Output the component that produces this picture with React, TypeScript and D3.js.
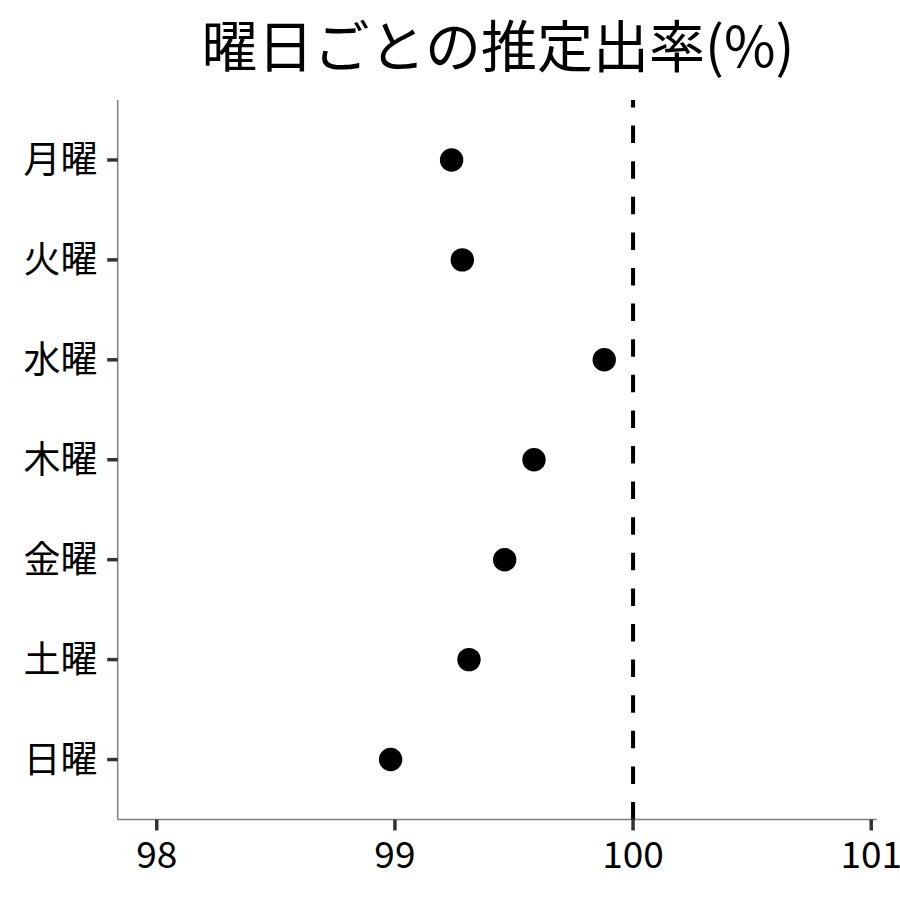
import React from "react";
import * as d3 from "d3";

const days: string[] = ["月曜", "火曜", "水曜", "木曜", "金曜", "土曜", "日曜"];
const rates: number[] = [99.238, 99.283, 99.879, 99.584, 99.461, 99.311, 98.982];
const xTicks: number[] = [98, 99, 100, 101];
const refValue = 100;
const title = "曜日ごとの推定出率(%)";

const W = 900;
const H = 900;
const left = 117.7;
const right = 876.7;
const top = 100;
const bottom = 819.5;
const font = "'Noto Sans CJK JP', 'Noto Sans', sans-serif";

export default function App() {
  const x = d3.scaleLinear().domain([97.836, 101.023]).range([left, right]);
  const y = d3.scalePoint<string>().domain(days).range([top, bottom]).padding(0.6);

  return (
    <svg
      width={W}
      height={H}
      viewBox={`0 0 ${W} ${H}`}
      style={{ position: "absolute", left: 0, top: 0, background: "#fff" }}
    >
      <rect x={0} y={0} width={W} height={H} fill="#fff" />
      <text
        x={(203 + 793) / 2}
        y={67}
        textAnchor="middle"
        fontFamily={font}
        fontSize={56}
        fill="#000"
      >
        {title}
      </text>

      {/* axes lines */}
      <line x1={left} x2={left} y1={top} y2={bottom} stroke="#808080" strokeWidth={1.5} />
      <line x1={left} x2={right} y1={bottom} y2={bottom} stroke="#808080" strokeWidth={1.5} />

      {/* y ticks and labels */}
      {days.map((d) => (
        <g key={d}>
          <line
            x1={left - 10.5}
            x2={left}
            y1={y(d)!}
            y2={y(d)!}
            stroke="#333"
            strokeWidth={3.5}
          />
          <text
            x={97.5}
            y={y(d)!}
            dy="0.36em"
            textAnchor="end"
            fontFamily={font}
            fontSize={37}
            fill="#000"
          >
            {d}
          </text>
        </g>
      ))}

      {/* x ticks and labels */}
      {xTicks.map((t) => (
        <g key={t}>
          <line
            x1={x(t)}
            x2={x(t)}
            y1={bottom}
            y2={bottom + 11}
            stroke="#333"
            strokeWidth={3.5}
          />
          <text
            x={x(t)}
            y={868}
            textAnchor="middle"
            fontFamily={font}
            fontSize={37}
            fill="#000"
          >
            {t}
          </text>
        </g>
      ))}

      {/* reference dashed line */}
      <line
        x1={x(refValue)}
        x2={x(refValue)}
        y1={bottom}
        y2={top}
        stroke="#000"
        strokeWidth={4}
        strokeDasharray="17.5 18.1"
      />

      {/* points */}
      {days.map((d, i) => (
        <circle key={d} cx={x(rates[i])} cy={y(d)!} r={11.7} fill="#000" />
      ))}
    </svg>
  );
}
